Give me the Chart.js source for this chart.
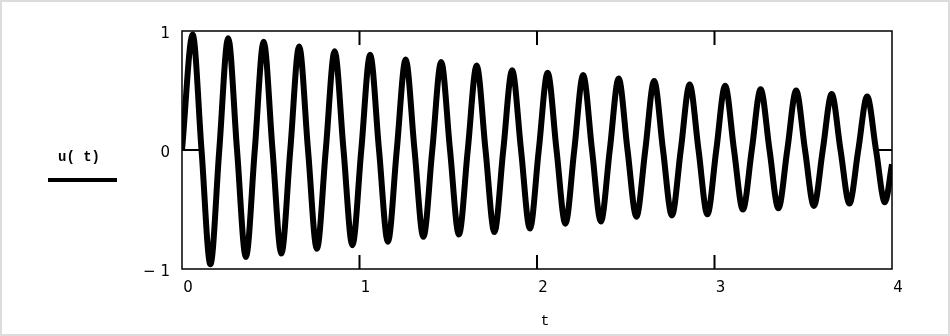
<!DOCTYPE html>
<html>
<head>
<meta charset="utf-8">
<script src="https://cdn.jsdelivr.net/npm/chart.js@4"></script>
<style>
  html, body { margin: 0; padding: 0; background: #fff; }
  #wrap { width: 950px; height: 336px; position: relative; }
</style>
</head>
<body>
<div id="wrap"><canvas id="myChart"></canvas></div>
<script>
// values
var peakT = [0.06, 0.26, 0.46, 0.66, 0.86, 1.06, 1.26, 1.46, 1.66, 1.86, 2.06, 2.26, 2.46, 2.66, 2.86, 3.06, 3.26, 3.46, 3.66, 3.86];
var peakU = [0.97, 0.94, 0.91, 0.87, 0.83, 0.80, 0.76, 0.74, 0.71, 0.67, 0.65, 0.63, 0.60, 0.58, 0.55, 0.54, 0.51, 0.50, 0.47, 0.45];
var troughT = [0.16, 0.36, 0.56, 0.76, 0.96, 1.16, 1.36, 1.56, 1.76, 1.96, 2.16, 2.36, 2.56, 2.76, 2.96, 3.16, 3.36, 3.56, 3.76, 3.96];
var troughU = [-0.96, -0.90, -0.87, -0.83, -0.80, -0.77, -0.73, -0.71, -0.69, -0.66, -0.62, -0.60, -0.56, -0.55, -0.54, -0.50, -0.49, -0.47, -0.45, -0.44];
var crossT = [0, 0.11, 0.21, 0.31, 0.41, 0.51, 0.61, 0.71, 0.81, 0.91, 1.01, 1.11, 1.21, 1.31, 1.41, 1.51, 1.61, 1.71, 1.81, 1.91,
              2.01, 2.11, 2.21, 2.31, 2.41, 2.51, 2.61, 2.71, 2.81, 2.91, 3.01, 3.11, 3.21, 3.31, 3.41, 3.51, 3.61, 3.71, 3.81, 3.91];
var endT = 4.0;
var endU = -0.12;

var xTicks = [0, 1, 2, 3, 4];
var yTicks = [-1, 0, 1];
var innerXTicks = [1, 2, 3];
var seriesLabel = "u( t)";
var xTitle = "t";

// merge everything into one sorted list of points
var points = [];
for (var i = 0; i < peakT.length; i++) points.push({ x: peakT[i], y: peakU[i] });
for (var i = 0; i < troughT.length; i++) points.push({ x: troughT[i], y: troughU[i] });
for (var i = 0; i < crossT.length; i++) points.push({ x: crossT[i], y: 0 });
points.push({ x: endT, y: endU });
points.sort(function (a, b) { return a.x - b.x; });

// frame, inward ticks and the trace label (Mathcad style)
var framePlugin = {
  id: "frame",
  beforeDraw: function (chart) {
    var ctx = chart.ctx;
    ctx.save();
    ctx.strokeStyle = "#dcdcdc";
    ctx.lineWidth = 2;
    ctx.strokeRect(1, 1, chart.width - 2, chart.height - 2);
    ctx.restore();
  },
  afterDatasetsDraw: function (chart) {
    var ctx = chart.ctx;
    var a = chart.chartArea;
    var xs = chart.scales.x, ys = chart.scales.y;
    ctx.save();
    ctx.strokeStyle = "#000";
    ctx.lineWidth = 1.5;
    ctx.strokeRect(a.left, a.top, a.right - a.left, a.bottom - a.top);
    ctx.lineWidth = 2;
    ctx.beginPath();
    innerXTicks.forEach(function (v) {
      var px = xs.getPixelForValue(v);
      ctx.moveTo(px, a.top); ctx.lineTo(px, a.top + 14);
      ctx.moveTo(px, a.bottom); ctx.lineTo(px, a.bottom - 14);
    });
    var py = ys.getPixelForValue(0);
    ctx.moveTo(a.left, py); ctx.lineTo(a.left + 17, py);
    ctx.moveTo(a.right, py); ctx.lineTo(a.right - 13, py);
    ctx.stroke();

    // trace label with its line sample
    ctx.fillStyle = "#000";
    ctx.font = "bold 14px 'Liberation Mono'";
    ctx.textAlign = "center";
    ctx.textBaseline = "middle";
    ctx.fillText(seriesLabel, 79, 157);
    ctx.lineWidth = 4;
    ctx.beginPath();
    ctx.moveTo(48, 180); ctx.lineTo(117, 180);
    ctx.stroke();

    // axis variable under the x axis
    ctx.font = "15px 'Liberation Mono'";
    ctx.fillText(xTitle, 545, 321);
    ctx.restore();
  }
};

var ctx = document.getElementById("myChart").getContext("2d");
new Chart(ctx, {
  type: "line",
  data: {
    datasets: [{
      label: seriesLabel,
      data: points,
      borderColor: "#000",
      borderWidth: 6,
      pointRadius: 0,
      cubicInterpolationMode: "monotone",
      fill: false
    }]
  },
  options: {
    responsive: true,
    maintainAspectRatio: false,
    animation: false,
    layout: { padding: { left: 0, right: 58, top: 31, bottom: 0 } },
    plugins: { legend: { display: false }, tooltip: { enabled: false } },
    scales: {
      x: {
        type: "linear",
        min: 0,
        max: 4,
        afterFit: function (s) { s.height = 67; },
        afterBuildTicks: function (s) { s.ticks = xTicks.map(function (v) { return { value: v }; }); },
        grid: { display: false, drawTicks: false },
        border: { display: false },
        ticks: {
          color: "#000",
          font: { family: "'DejaVu Sans'", size: 15 },
          padding: 10,
          labelOffset: 6,
          maxRotation: 0
        }
      },
      y: {
        min: -1,
        max: 1,
        afterFit: function (s) { s.width = 182; },
        afterBuildTicks: function (s) { s.ticks = yTicks.map(function (v) { return { value: v }; }); },
        grid: { display: false, drawTicks: false },
        border: { display: false },
        ticks: {
          color: "#000",
          font: { family: "'DejaVu Sans'", size: 15 },
          padding: 12,
          labelOffset: 3,
          callback: function (v) { return v < 0 ? "\u2212 " + Math.abs(v) : String(v); }
        }
      }
    }
  },
  plugins: [framePlugin]
});
</script>
</body>
</html>
